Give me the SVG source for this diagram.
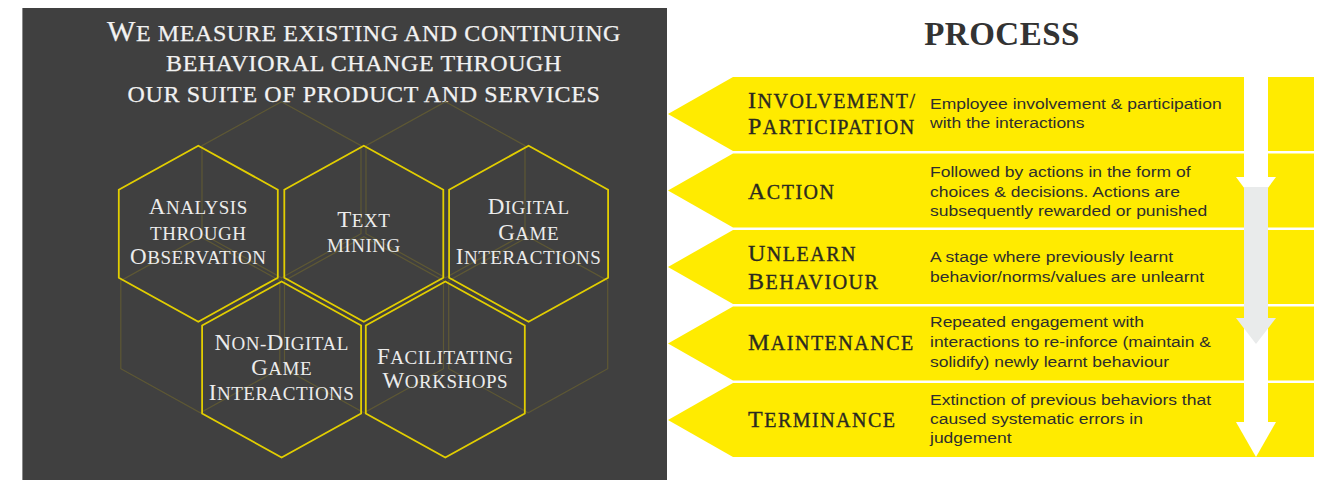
<svg xmlns="http://www.w3.org/2000/svg" xmlns:xlink="http://www.w3.org/1999/xlink" width="1328" height="480" viewBox="0 0 1328 480">
  <style>
    .panel { fill: #404040; }
    .title { font-family: "Liberation Serif", serif; font-size: 24px; fill: #f2f2f2; letter-spacing: 0.6px; text-anchor: middle; stroke: #f2f2f2; stroke-width: 0.25; }
    .title .big { font-size: 30px; }
    .hex-main { fill: none; stroke: #e2ce00; stroke-width: 1.8; }
    .hex-ghost { fill: none; stroke: #5e5834; stroke-width: 1.2; }
    .hx { font-family: "Liberation Serif", serif; font-size: 19px; fill: #ececec; letter-spacing: 0.5px; text-anchor: middle; }
    .hx .big { font-size: 23px; }
    .strip { fill: #ffeb00; }
    .lbl { font-family: "Liberation Serif", serif; font-size: 20px; fill: #2b2a20; stroke: #2b2a20; stroke-width: 0.35; letter-spacing: 1.5px; }
    .lbl .big { font-size: 24px; }
    .desc { font-family: "Liberation Sans", Arial, sans-serif; font-size: 15.5px; fill: #2e2e2e; }
    .head { font-family: "Liberation Serif", serif; font-size: 33px; font-weight: bold; fill: #333333; letter-spacing: 0.5px; text-anchor: middle; }
    .flow-white { fill: #ffffff; }
    .flow-grey { fill: #e9ebeb; }
  </style>
  <defs>
    <polygon id="hex" points="0,-88 79.5,-44 79.5,44 0,88 -79.5,44 -79.5,-44"/>
  </defs>

  <rect width="1328" height="480" fill="#ffffff"/>

  <!-- dark left panel -->
  <rect class="panel" x="22" y="8" width="645" height="472"/>
  <line x1="22.5" y1="8" x2="22.5" y2="480" stroke="#8a8a8a" stroke-width="1"/>

  <!-- panel heading -->
  <g id="panel-title">
    <text class="title" x="364" y="41"><tspan class="big">W</tspan>E MEASURE EXISTING AND CONTINUING</text>
    <text class="title" x="364" y="71">BEHAVIORAL CHANGE THROUGH</text>
    <text class="title" x="364" y="102">OUR SUITE OF PRODUCT AND SERVICES</text>
  </g>

  <!-- faint back layer of the honeycomb -->
  <g id="honeycomb-back">
    <use xlink:href="#hex" href="#hex" class="hex-ghost" x="281.5" y="189.7"/>
    <use xlink:href="#hex" href="#hex" class="hex-ghost" x="445.5" y="189.7"/>
    <use xlink:href="#hex" href="#hex" class="hex-ghost" x="200.3" y="324.7"/>
    <use xlink:href="#hex" href="#hex" class="hex-ghost" x="364" y="324.7"/>
    <use xlink:href="#hex" href="#hex" class="hex-ghost" x="528.2" y="324.7"/>
  </g>

  <!-- product / service hexagons -->
  <g id="hex-analysis">
    <use xlink:href="#hex" href="#hex" class="hex-main" x="198.3" y="233.7"/>
    <text class="hx" x="198.3" y="214"><tspan class="big">A</tspan>NALYSIS</text>
    <text class="hx" x="198.3" y="240">THROUGH</text>
    <text class="hx" x="198.3" y="264"><tspan class="big">O</tspan>BSERVATION</text>
  </g>
  <g id="hex-text-mining">
    <use xlink:href="#hex" href="#hex" class="hex-main" x="363.8" y="233.7"/>
    <text class="hx" x="363.8" y="227"><tspan class="big">T</tspan>EXT</text>
    <text class="hx" x="363.8" y="252">MINING</text>
  </g>
  <g id="hex-digital-game">
    <use xlink:href="#hex" href="#hex" class="hex-main" x="528.6" y="233.7"/>
    <text class="hx" x="528.6" y="214"><tspan class="big">D</tspan>IGITAL</text>
    <text class="hx" x="528.6" y="239.5"><tspan class="big">G</tspan>AME</text>
    <text class="hx" x="528.6" y="264"><tspan class="big">I</tspan>NTERACTIONS</text>
  </g>
  <g id="hex-non-digital-game">
    <use xlink:href="#hex" href="#hex" class="hex-main" x="281.6" y="369.5"/>
    <text class="hx" x="281.6" y="350"><tspan class="big">N</tspan>ON-<tspan class="big">D</tspan>IGITAL</text>
    <text class="hx" x="281.6" y="375"><tspan class="big">G</tspan>AME</text>
    <text class="hx" x="281.6" y="399.5"><tspan class="big">I</tspan>NTERACTIONS</text>
  </g>
  <g id="hex-workshops">
    <use xlink:href="#hex" href="#hex" class="hex-main" x="445.3" y="369.5"/>
    <text class="hx" x="445.3" y="363.5"><tspan class="big">F</tspan>ACILITATING</text>
    <text class="hx" x="445.3" y="388"><tspan class="big">W</tspan>ORKSHOPS</text>
  </g>

  <!-- process heading -->
  <text id="process-title" class="head" x="1002" y="45">PROCESS</text>

  <!-- process stages -->
  <g id="stage-involvement">
    <polygon class="strip" points="733,77 1314,77 1314,151 733,151 668,114"/>
    <text class="lbl" x="748" y="108"><tspan class="big">I</tspan>NVOLVEMENT/</text>
    <text class="lbl" x="748" y="134"><tspan class="big">P</tspan>ARTICIPATION</text>
  </g>
  <g id="stage-action">
    <polygon class="strip" points="733,153.5 1314,153.5 1314,227.5 733,227.5 668,190.5"/>
    <text class="lbl" x="748" y="198.5"><tspan class="big">A</tspan>CTION</text>
  </g>
  <g id="stage-unlearn">
    <polygon class="strip" points="733,230 1314,230 1314,304 733,304 668,267"/>
    <text class="lbl" x="748" y="261"><tspan class="big">U</tspan>NLEARN</text>
    <text class="lbl" x="748" y="289"><tspan class="big">B</tspan>EHAVIOUR</text>
  </g>
  <g id="stage-maintenance">
    <polygon class="strip" points="733,306.5 1314,306.5 1314,380.5 733,380.5 668,343.5"/>
    <text class="lbl" x="748" y="350"><tspan class="big">M</tspan>AINTENANCE</text>
  </g>
  <g id="stage-terminance">
    <polygon class="strip" points="733,383 1314,383 1314,457 733,457 668,420"/>
    <text class="lbl" x="748" y="426.5"><tspan class="big">T</tspan>ERMINANCE</text>
  </g>

  <!-- stage descriptions, set slightly wide -->
  <g id="stage-descriptions" transform="translate(930 0) scale(1.13 1)">
    <text class="desc" x="0" y="109">Employee involvement &amp; participation</text>
    <text class="desc" x="0" y="128.3">with the interactions</text>
    <text class="desc" x="0" y="177.3">Followed by actions in the form of</text>
    <text class="desc" x="0" y="196.7">choices &amp; decisions. Actions are</text>
    <text class="desc" x="0" y="216">subsequently rewarded or punished</text>
    <text class="desc" x="0" y="262">A stage where previously learnt</text>
    <text class="desc" x="0" y="281.7">behavior/norms/values are unlearnt</text>
    <text class="desc" x="0" y="327.5">Repeated engagement with</text>
    <text class="desc" x="0" y="347.5">interactions to re-inforce (maintain &amp;</text>
    <text class="desc" x="0" y="366.7">solidify) newly learnt behaviour</text>
    <text class="desc" x="0" y="405">Extinction of previous behaviors that</text>
    <text class="desc" x="0" y="424">caused systematic errors in</text>
    <text class="desc" x="0" y="443">judgement</text>
  </g>

  <!-- downward flow arrows through the stages -->
  <g id="connectors">
    <rect class="flow-white" x="1244" y="77" width="24" height="100"/>
    <polygon class="flow-white" points="1236,177 1276,177 1256,204"/>
    <rect class="flow-white" x="1244" y="318" width="24" height="104"/>
    <polygon class="flow-white" points="1236,422 1276,422 1256,457"/>
    <rect class="flow-grey" x="1244" y="187" width="24" height="131"/>
    <polygon class="flow-grey" points="1236,318 1276,318 1256,344"/>
  </g>
</svg>
